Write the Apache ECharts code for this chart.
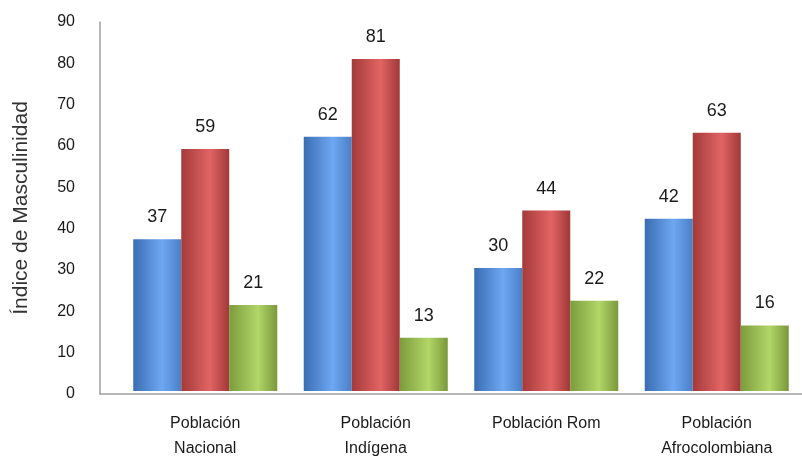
<!DOCTYPE html>
<html>
<head>
<meta charset="utf-8">
<script src="https://cdn.jsdelivr.net/npm/echarts@6/dist/echarts.min.js"></script>
<style>html,body{margin:0;padding:0;background:#fff}#c{width:802px;height:461px}</style>
</head>
<body>
<div id="c"></div>
<script>
const categories = ['Población\nNacional', 'Población\nIndígena', 'Población Rom', 'Población\nAfrocolombiana'];
const serieA = [37, 62, 30, 42];
const serieB = [59, 81, 44, 63];
const serieC = [21, 13, 22, 16];
const yTicks = [0, 10, 20, 30, 40, 50, 60, 70, 80, 90];
const yName = 'Índice de Masculinidad';

function grad(dark, light, dark2) {
  return new echarts.graphic.LinearGradient(0, 0, 1, 0, [
    {offset: 0, color: dark},
    {offset: 0.6, color: light},
    {offset: 1, color: dark2}
  ]);
}
const labelStyle = {show: true, position: 'top', distance: 13, fontFamily: 'Liberation Sans', fontSize: 18, color: '#1a1a1a'};

const chart = echarts.init(document.getElementById('c'));
chart.setOption({
  animation: false,
  grid: [
    {left: 100, right: 0, top: 22, bottom: 67, containLabel: false},
    {left: 120, width: 684, top: 22, bottom: 67, containLabel: false}
  ],
  xAxis: [
    {gridIndex: 0, type: 'value', min: 0, max: 1, axisLine: {show: true, onZero: false, lineStyle: {color: '#a0a0a0', width: 1.5}}, axisTick: {show: false}, axisLabel: {show: false}, splitLine: {show: false}},
    {gridIndex: 1, type: 'category', data: categories, axisLine: {show: false}, axisTick: {show: false},
      axisLabel: {margin: 20, fontFamily: 'Liberation Sans', fontSize: 16, lineHeight: 25, color: '#1a1a1a', interval: 0}}
  ],
  yAxis: [
    {gridIndex: 0, type: 'value', min: yTicks[0], max: yTicks[yTicks.length - 1], interval: 10,
      name: yName, nameLocation: 'middle', nameGap: 68, nameRotate: 90,
      nameTextStyle: {fontFamily: 'Liberation Sans', fontSize: 21, color: '#333'},
      axisLine: {show: true, lineStyle: {color: '#a0a0a0', width: 1.5}}, axisTick: {show: false},
      axisLabel: {margin: 25, fontFamily: 'Liberation Sans', fontSize: 16, color: '#1a1a1a'}, splitLine: {show: false}},
    {gridIndex: 1, type: 'value', min: yTicks[0], max: yTicks[yTicks.length - 1], interval: 10,
      axisLine: {show: false}, axisTick: {show: false}, axisLabel: {show: false}, splitLine: {show: false}}
  ],
  series: [
    {type: 'bar', xAxisIndex: 1, yAxisIndex: 1, data: serieA, barWidth: 48, barGap: '0%',
      itemStyle: {color: grad('#3a6cb2', '#6ea8f2', '#4a7fc6')}, label: labelStyle},
    {type: 'bar', xAxisIndex: 1, yAxisIndex: 1, data: serieB, barWidth: 48, barGap: '0%',
      itemStyle: {color: grad('#a43a3a', '#e26464', '#a03838')}, label: labelStyle},
    {type: 'bar', xAxisIndex: 1, yAxisIndex: 1, data: serieC, barWidth: 48, barGap: '0%',
      itemStyle: {color: grad('#7c9c3c', '#b2d668', '#7a983a')}, label: labelStyle}
  ]
});
</script>
</body>
</html>
